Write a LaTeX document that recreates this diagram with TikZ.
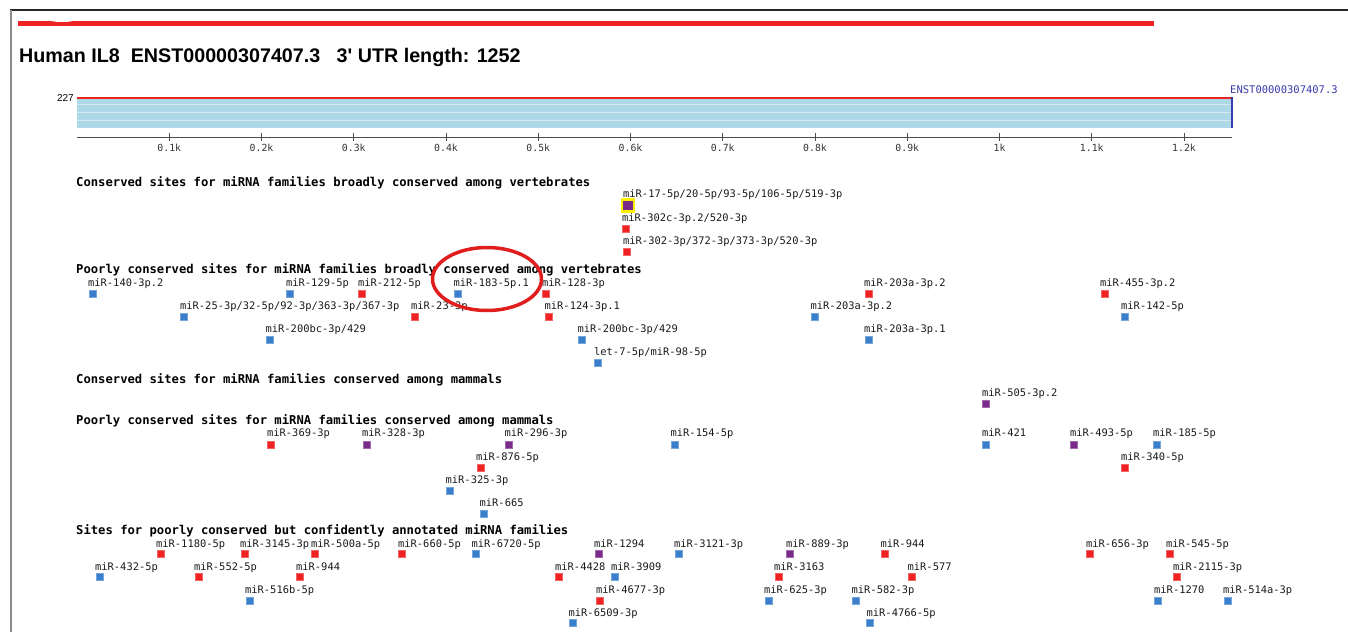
\documentclass[tikz,border=0pt]{standalone}
\usepackage{fontspec}
\setmonofont{DejaVu Sans Mono}
\newfontfamily\arialfont{Liberation Sans}
\definecolor{sitered}{HTML}{EE2222}
\definecolor{siteblue}{HTML}{3A7FCC}
\definecolor{sitepurple}{HTML}{7A2A88}
\definecolor{utrblue}{HTML}{ADD8E6}
\definecolor{stripe}{HTML}{D6ECF2}
\definecolor{enstblue}{HTML}{3A3AAA}
\definecolor{ringred}{HTML}{E01E1E}
\begin{document}
\begin{tikzpicture}[x=1pt, y=-1pt,
    mir/.style={anchor=west, inner sep=0pt, text height=7.6pt, text depth=0pt,
      font=\ttfamily\fontsize{10.4}{12}\selectfont, text=black!90},
    sechead/.style={anchor=west, inner sep=0pt, text height=8.9pt, text depth=0pt,
      font=\ttfamily\bfseries\fontsize{12.2}{14}\selectfont},
    tk/.style={anchor=north, inner sep=0pt, text height=7pt, text depth=0pt,
      font=\ttfamily\fontsize{9.8}{11}\selectfont, text=black!80},
    sq/.style={minimum size=7pt, inner sep=0pt, draw=#1!70!white, line width=0.4pt, fill=#1},
    redsq/.style={sq=sitered},
    bluesq/.style={sq=siteblue},
    purplesq/.style={sq=sitepurple},
    tick/.style={black!70, line width=1pt}]
      \useasboundingbox (0,0) rectangle (1348,632);
      % frame and top bar
      \draw[black!85, line width=1.2pt] (10,10) -- (1348,10);
      \draw[black!45, line width=2pt] (11,10) -- (11,632);
      \draw[sitered, line width=5pt] (18,23) -- (1154,23);
      \fill[white] (62,19.5) ellipse [x radius=14, y radius=2.5];
      \node[anchor=base west, inner sep=0pt, font=\arialfont\bfseries\fontsize{19.7}{24}\selectfont] (title) at (19,62)
        {Human IL8\ \ ENST00000307407.3\ \ \ 3\textquotesingle{} UTR length: 1252};

      % UTR bar
      \fill[utrblue] (77,98) rectangle (1232,128);
      \draw[stripe, line width=1pt] (77,104) -- (1232,104);
      \draw[stripe, line width=1pt] (77,112.5) -- (1232,112.5);
      \draw[stripe, line width=1pt] (77,120.5) -- (1232,120.5);
      \draw[sitered, line width=2.5pt] (77,98) -- (1232,98);
      \draw[enstblue, line width=2.5pt] (1232,97) -- (1232,128);
      \node[anchor=east, inner sep=0pt, font=\arialfont\fontsize{10}{12}\selectfont] (len) at (74,98) {227};
      \node[anchor=west, inner sep=0pt, text=enstblue, font=\ttfamily\fontsize{10.5}{12}\selectfont] (enst) at (1230,90) {ENST00000307407.3};

      % axis
      \draw[black!70, line width=1.5pt] (77,137.5) -- (1232,137.5);
      \draw[tick] (169.25,133) -- (169.25,141) node[tk] at (169.25,144) {0.1k};
      \draw[tick] (261.5,133) -- (261.5,141) node[tk] at (261.5,144) {0.2k};
      \draw[tick] (353.75,133) -- (353.75,141) node[tk] at (353.75,144) {0.3k};
      \draw[tick] (446,133) -- (446,141) node[tk] at (446,144) {0.4k};
      \draw[tick] (538.25,133) -- (538.25,141) node[tk] at (538.25,144) {0.5k};
      \draw[tick] (630.5,133) -- (630.5,141) node[tk] at (630.5,144) {0.6k};
      \draw[tick] (722.75,133) -- (722.75,141) node[tk] at (722.75,144) {0.7k};
      \draw[tick] (815,133) -- (815,141) node[tk] at (815,144) {0.8k};
      \draw[tick] (907.25,133) -- (907.25,141) node[tk] at (907.25,144) {0.9k};
      \draw[tick] (999.5,133) -- (999.5,141) node[tk] at (999.5,144) {1k};
      \draw[tick] (1091.75,133) -- (1091.75,141) node[tk] at (1091.75,144) {1.1k};
      \draw[tick] (1184,133) -- (1184,141) node[tk] at (1184,144) {1.2k};

      % broadly conserved, vertebrates
      \node[sechead] (h1) at (76,182.5) {Conserved sites for miRNA families broadly conserved among vertebrates};
      \node[mir] (l17) at (623,194) {miR-17-5p/20-5p/93-5p/106-5p/519-3p};
      \node[sq=sitepurple, draw=yellow, line width=2.2pt, minimum size=12pt] (q17) at (628,205.5) {};
      \node[mir] (l302c) at (622,218) {miR-302c-3p.2/520-3p};
      \node[redsq] (q302c) at (626,229) {};
      \node[mir] (l302) at (623,241) {miR-302-3p/372-3p/373-3p/520-3p};
      \node[redsq] (q302) at (627,252) {};

      % poorly conserved, vertebrates
      \node[sechead] (h2) at (76,269.5) {Poorly conserved sites for miRNA families broadly conserved among vertebrates};
      \node[mir] (l140) at (88,282.5) {miR-140-3p.2};
      \node[bluesq] (q140) at (93,293.5) {};
      \node[mir] (l129) at (286,282.5) {miR-129-5p};
      \node[bluesq] (q129) at (290,293.5) {};
      \node[mir] (l212) at (358,282.5) {miR-212-5p};
      \node[redsq] (q212) at (362,293.5) {};
      \node[mir] (l183) at (453.5,282.5) {miR-183-5p.1};
      \node[bluesq] (q183) at (458,293.5) {};
      \node[mir] (l128) at (542,282.5) {miR-128-3p};
      \node[redsq] (q128) at (545.5,293.5) {};
      \node[mir] (l203a) at (864,282.5) {miR-203a-3p.2};
      \node[redsq] (q203a) at (868.5,293.5) {};
      \node[mir] (l455) at (1100,282.5) {miR-455-3p.2};
      \node[redsq] (q455) at (1104.5,293.5) {};
      \node[mir] (l25) at (180,306) {miR-25-3p/32-5p/92-3p/363-3p/367-3p};
      \node[bluesq] (q25) at (183.5,316.5) {};
      \node[mir] (l23) at (411,306) {miR-23-3p};
      \node[redsq] (q23) at (415,316.5) {};
      \node[mir] (l124) at (544.5,306) {miR-124-3p.1};
      \node[redsq] (q124) at (549,316.5) {};
      \node[mir] (l203b) at (810.5,306) {miR-203a-3p.2};
      \node[bluesq] (q203b) at (815,316.5) {};
      \node[mir] (l142) at (1121,306) {miR-142-5p};
      \node[bluesq] (q142) at (1125,316.5) {};
      \node[mir] (l200a) at (265.5,328.5) {miR-200bc-3p/429};
      \node[bluesq] (q200a) at (270,339.5) {};
      \node[mir] (l200b) at (577.5,328.5) {miR-200bc-3p/429};
      \node[bluesq] (q200b) at (582,339.5) {};
      \node[mir] (l203c) at (864,328.5) {miR-203a-3p.1};
      \node[bluesq] (q203c) at (868.5,339.5) {};
      \node[mir] (llet7) at (594,351.5) {let-7-5p/miR-98-5p};
      \node[bluesq] (qlet7) at (598,362.5) {};
      \draw[ringred, line width=3.5pt] (487,279) ellipse [x radius=54.5, y radius=31.5];

      % conserved, mammals
      \node[sechead] (h3) at (76,379.5) {Conserved sites for miRNA families conserved among mammals};
      \node[mir] (l505) at (982,393) {miR-505-3p.2};
      \node[purplesq] (q505) at (986,403.5) {};

      % poorly conserved, mammals
      \node[sechead] (h4) at (76,420.5) {Poorly conserved sites for miRNA families conserved among mammals};
      \node[mir] (l369) at (267,433) {miR-369-3p};
      \node[redsq] (q369) at (271,444.5) {};
      \node[mir] (l328) at (362,433) {miR-328-3p};
      \node[purplesq] (q328) at (366.5,444.5) {};
      \node[mir] (l296) at (504.5,433) {miR-296-3p};
      \node[purplesq] (q296) at (509,444.5) {};
      \node[mir] (l154) at (670.5,433) {miR-154-5p};
      \node[bluesq] (q154) at (675,444.5) {};
      \node[mir] (l421) at (982,433) {miR-421};
      \node[bluesq] (q421) at (986,444.5) {};
      \node[mir] (l493) at (1070,433) {miR-493-5p};
      \node[purplesq] (q493) at (1074,444.5) {};
      \node[mir] (l185) at (1153,433) {miR-185-5p};
      \node[bluesq] (q185) at (1157,444.5) {};
      \node[mir] (l876) at (476,456.5) {miR-876-5p};
      \node[redsq] (q876) at (480.5,467.5) {};
      \node[mir] (l340) at (1121,456.5) {miR-340-5p};
      \node[redsq] (q340) at (1125,467.5) {};
      \node[mir] (l325) at (445.5,479.5) {miR-325-3p};
      \node[bluesq] (q325) at (450,490.5) {};
      \node[mir] (l665) at (479.5,502.5) {miR-665};
      \node[bluesq] (q665) at (483.5,513.5) {};

      % poorly conserved but confidently annotated
      \node[sechead] (h5) at (76,530) {Sites for poorly conserved but confidently annotated miRNA families};
      \node[mir] (l1180) at (156,543.5) {miR-1180-5p};
      \node[redsq] (q1180) at (160.5,554) {};
      \node[mir] (l3145) at (240,543.5) {miR-3145-3p};
      \node[redsq] (q3145) at (245,554) {};
      \node[mir] (l500a) at (311,543.5) {miR-500a-5p};
      \node[redsq] (q500a) at (315,554) {};
      \node[mir] (l660) at (398,543.5) {miR-660-5p};
      \node[redsq] (q660) at (402,554) {};
      \node[mir] (l6720) at (471.5,543.5) {miR-6720-5p};
      \node[bluesq] (q6720) at (476,554) {};
      \node[mir] (l1294) at (594,543.5) {miR-1294};
      \node[purplesq] (q1294) at (598.5,554) {};
      \node[mir] (l3121) at (674,543.5) {miR-3121-3p};
      \node[bluesq] (q3121) at (678.5,554) {};
      \node[mir] (l889) at (786,543.5) {miR-889-3p};
      \node[purplesq] (q889) at (790,554) {};
      \node[mir] (l944a) at (880.5,543.5) {miR-944};
      \node[redsq] (q944a) at (885,554) {};
      \node[mir] (l656) at (1086,543.5) {miR-656-3p};
      \node[redsq] (q656) at (1090,554) {};
      \node[mir] (l545) at (1166,543.5) {miR-545-5p};
      \node[redsq] (q545) at (1170,554) {};
      \node[mir] (l432) at (95,566.5) {miR-432-5p};
      \node[bluesq] (q432) at (99.5,577) {};
      \node[mir] (l552) at (194,566.5) {miR-552-5p};
      \node[redsq] (q552) at (199,577) {};
      \node[mir] (l944b) at (296,566.5) {miR-944};
      \node[redsq] (q944b) at (300,577) {};
      \node[mir] (l4428) at (555,566.5) {miR-4428};
      \node[redsq] (q4428) at (559,577) {};
      \node[mir] (l3909) at (611,566.5) {miR-3909};
      \node[bluesq] (q3909) at (615,577) {};
      \node[mir] (l3163) at (774,566.5) {miR-3163};
      \node[redsq] (q3163) at (778.5,577) {};
      \node[mir] (l577) at (907.5,566.5) {miR-577};
      \node[redsq] (q577) at (911.5,577) {};
      \node[mir] (l2115) at (1173,566.5) {miR-2115-3p};
      \node[redsq] (q2115) at (1177,577) {};
      \node[mir] (l516) at (245,589.5) {miR-516b-5p};
      \node[bluesq] (q516) at (249.5,600.5) {};
      \node[mir] (l4677) at (596,589.5) {miR-4677-3p};
      \node[redsq] (q4677) at (600,600.5) {};
      \node[mir] (l625) at (764,589.5) {miR-625-3p};
      \node[bluesq] (q625) at (769,600.5) {};
      \node[mir] (l582) at (851.5,589.5) {miR-582-3p};
      \node[bluesq] (q582) at (855.5,600.5) {};
      \node[mir] (l1270) at (1154,589.5) {miR-1270};
      \node[bluesq] (q1270) at (1158,600.5) {};
      \node[mir] (l514) at (1223,589.5) {miR-514a-3p};
      \node[bluesq] (q514) at (1228,600.5) {};
      \node[mir] (l6509) at (568.5,612.5) {miR-6509-3p};
      \node[bluesq] (q6509) at (573,623) {};
      \node[mir] (l4766) at (866.5,612.5) {miR-4766-5p};
      \node[bluesq] (q4766) at (870,623) {};
\end{tikzpicture}
\end{document}
